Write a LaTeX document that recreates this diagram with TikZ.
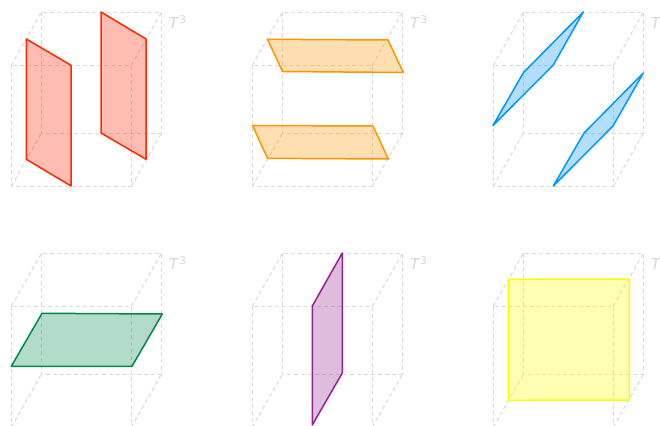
\documentclass[tikz,border=0pt]{standalone}
\usepackage{fontspec}
\setmainfont{DejaVu Sans}
\definecolor{sheetred}{RGB}{255,38,0}
\definecolor{sheetorange}{RGB}{255,147,0}
\definecolor{sheetblue}{RGB}{0,150,255}
\definecolor{sheetgreen}{RGB}{0,135,80}
\definecolor{sheetpurple}{RGB}{148,33,146}
\definecolor{sheetyellow}{RGB}{255,251,0}
\definecolor{cubegray}{RGB}{218,218,218}
\definecolor{labelgray}{RGB}{214,214,214}
\begin{document}
\begin{tikzpicture}[x=1pt, y=-1pt,
    cube/.style={draw=cubegray, line width=1.1pt, dash pattern=on 4pt off 3pt},
    sheet/.style={draw=#1, fill=#1, fill opacity=0.3, draw opacity=1, line width=1.5pt, line join=round},
    torus/.style={text=labelgray, font=\fontsize{15}{15}\selectfont, inner sep=0pt}]
  \useasboundingbox (0,0) rectangle (660,425);
  \clip (0,0) rectangle (660,425);
  % the six dashed cubes
  \foreach \col/\row in {0/0, 1/0, 2/0, 0/1, 1/1, 2/1} {
    \begin{scope}[shift={(241*\col+0.3,241*\row+0.3)}]
      \draw[cube] (11,65) rectangle (131,186);
      \draw[cube] (41,12) rectangle (161,133);
      \draw[cube] (11,65) -- (41,12);
      \draw[cube] (131,65) -- (161,12);
      \draw[cube] (11,186) -- (41,133);
      \draw[cube] (131,186) -- (161,133);
      \node[torus] (label\col\row) at (177.5,21.5) {\textit{T}\textsuperscript{3}};
    \end{scope}
  }
  % top row
  \draw[sheet=sheetred] (26.3,39) -- (71,65.3) -- (71,186) -- (26.3,159.3) -- cycle;
  \draw[sheet=sheetred] (101,12) -- (146,39) -- (146,159.3) -- (101,133) -- cycle;
  \draw[sheet=sheetorange] (267.5,39.3) -- (388,40) -- (403.3,72.5) -- (282.5,71.5) -- cycle;
  \draw[sheet=sheetorange] (252.5,125.5) -- (373,126) -- (388.3,159) -- (267.5,158.3) -- cycle;
  \draw[sheet=sheetblue] (493,125.5) -- (523.5,72.5) -- (583.3,12) -- (553.3,65) -- cycle;
  \draw[sheet=sheetblue] (553.3,186) -- (584,133) -- (643.3,73) -- (613,126) -- cycle;
  % bottom row
  \draw[sheet=sheetgreen] (11.3,366.3) -- (42,313.3) -- (162.3,314) -- (132,366.3) -- cycle;
  \draw[sheet=sheetpurple] (312.3,306) -- (342.3,253) -- (342.3,373) -- (312.3,425) -- cycle;
  \draw[sheet=sheetyellow] (508.3,279.3) -- (629.3,279) -- (629.3,400) -- (508.3,400.3) -- cycle;
\end{tikzpicture}
\end{document}
